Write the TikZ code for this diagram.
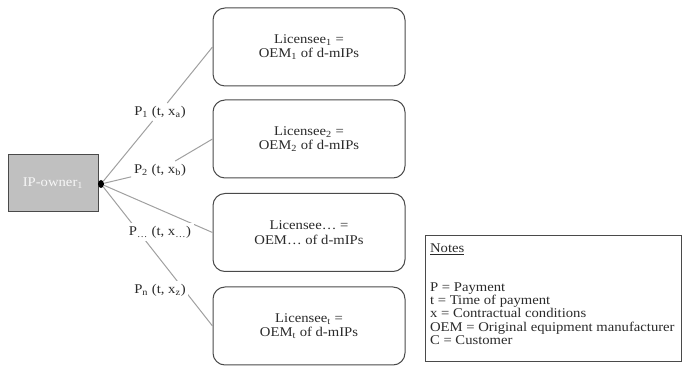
\documentclass[tikz,border=0pt]{standalone}
\usepackage{fontspec}
\setmainfont[FakeStretch=1.1]{Liberation Serif}
\usetikzlibrary{positioning}
\usetikzlibrary{shapes.geometric}
\definecolor{ownerfill}{HTML}{C0C0C0}
\definecolor{framegray}{HTML}{4A4A4A}
\definecolor{edgegray}{HTML}{A0A0A0}
\definecolor{textgray}{HTML}{2A2A2A}

\begin{document}
\begin{tikzpicture}[x=0.75pt,y=-0.75pt,font=\fontsize{10}{11}\selectfont,text=textgray]
	%\draw[help lines] (0,0) grid[step=50] (682,366);
	\useasboundingbox (0,0) rectangle (682,366);
	
	\tikzstyle{onode} = [rectangle,draw=framegray,line width=0.75pt,fill=ownerfill,text=white!94!gray,minimum width=67.5pt,minimum height=42.75pt]
	\tikzstyle{lnode} = [rectangle,rounded corners=9pt,draw=framegray,line width=0.75pt,fill=white,align=center,minimum width=144pt,minimum height=58.5pt]
	\tikzstyle{pnode} = [inner sep=2pt,fill=white]
	\tikzstyle{dnode} = [ellipse,fill=black,inner sep=0pt,minimum width=4.5pt,minimum height=6pt]
	\tikzstyle{pedge} = [draw=edgegray,line width=0.75pt]
	
	% owner and licensees
	\node[onode] (owner) at (53, 183.5) {IP-owner\textsubscript{1}};
	\node[dnode] (hub) at (101, 184) {};
	
	\node[lnode] (l1) at (309, 47) {Licensee\textsubscript{1} =\\OEM\textsubscript{1} of d-mIPs};
	\node[lnode] (l2) at (309, 139) {Licensee\textsubscript{2} =\\OEM\textsubscript{2} of d-mIPs};
	\node[lnode] (l3) at (309, 232.5) {Licensee\ldots{} =\\OEM\ldots{} of d-mIPs};
	\node[lnode] (l4) at (309, 326) {Licensee\textsubscript{t} =\\OEM\textsubscript{t} of d-mIPs};
	
	% payments
	\node[pnode] (p1) at (160, 112) {P\textsubscript{1} (t, x\textsubscript{a})};
	\node[pnode] (p2) at (160, 170) {P\textsubscript{2} (t, x\textsubscript{b})};
	
	\draw[pedge] (hub) -- (p1) -- (l1.west);
	\draw[pedge] (hub) -- (p2) -- (l2.west);
	\draw[pedge] (hub) -- (l3.west);
	\draw[pedge] (hub) -- (l4.west);
	
	\node[pnode] (p3) at (160, 232) {P\textsubscript{\ldots} (t, x\textsubscript{\ldots})};
	\node[pnode] (p4) at (160, 290) {P\textsubscript{n} (t, x\textsubscript{z})};
	
	% legend
	\node[rectangle,draw=framegray,line width=0.75pt,minimum width=192pt,minimum height=94.5pt] (notes) at (553, 299) {};
	\node[anchor=north west,align=left,font=\fontsize{10}{10}\selectfont,inner sep=0pt,below right=6pt and 4pt of notes.north west] (notetext)
		{\underline{Notes}\\[19pt]
		 P = Payment\\
		 t = Time of payment\\
		 x = Contractual conditions\\
		 OEM = Original equipment manufacturer\\
		 C = Customer};

\end{tikzpicture}
\end{document}
